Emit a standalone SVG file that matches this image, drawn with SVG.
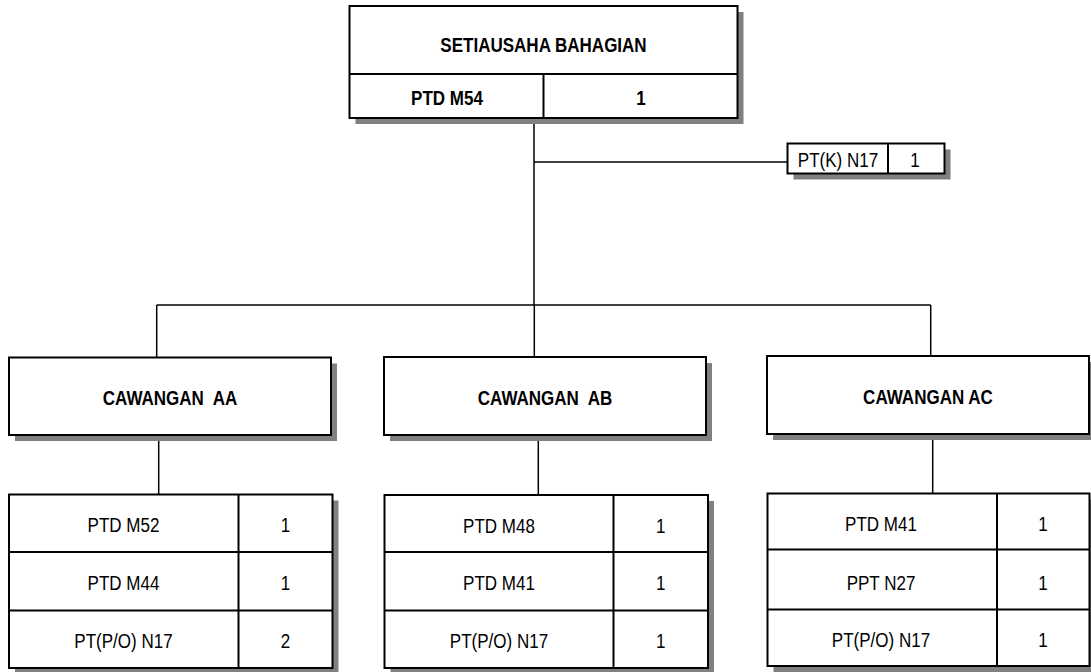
<svg xmlns="http://www.w3.org/2000/svg" width="1091" height="672" viewBox="0 0 1091 672">
<style>
.bx{fill:#fff;stroke:#000;stroke-width:2}
.sh{fill:#808080;stroke:none}
.dv{stroke:#000;stroke-width:2;fill:none}
.cn{stroke:#000;stroke-width:1.5;fill:none}
.b{font-family:"Liberation Sans",Arial,sans-serif;font-size:20.5px;font-weight:bold;text-anchor:middle;fill:#000;white-space:pre}
.r{font-family:"Liberation Sans",Arial,sans-serif;font-size:20.5px;text-anchor:middle;fill:#000}
</style>
<rect width="1091" height="672" fill="#fff"/>
<g id="connectors">
<path class="cn" d="M534 118 V305"/>
<path class="cn" d="M534 162 H787.5"/>
<path class="cn" d="M156.7 305 H930.7"/>
<path class="cn" d="M156.7 305 V357.5"/>
<path class="cn" d="M534.3 305 V357"/>
<path class="cn" d="M930.7 305 V356"/>
<path class="cn" d="M158.7 435 V494.5"/>
<path class="cn" d="M538.3 435 V495"/>
<path class="cn" d="M932.7 434 V493.5"/>
</g>
<g id="setiausaha">
<rect class="sh" x="355.5" y="12" width="388" height="112"/>
<rect class="bx" x="349.5" y="6" width="388" height="112"/>
<path class="dv" d="M349.5 74 H737.5 M543.5 74 V118"/>
<text class="b" transform="translate(543.5 51.5) scale(0.83 1)">SETIAUSAHA BAHAGIAN</text>
<text class="b" transform="translate(447 105) scale(0.83 1)">PTD M54</text>
<text class="b" transform="translate(641 105) scale(0.83 1)">1</text>
</g>
<g id="ptk">
<rect class="sh" x="793.5" y="149.5" width="157" height="30"/>
<rect class="bx" x="787.5" y="143.5" width="157" height="30"/>
<path class="dv" d="M888 143.5 V173.5"/>
<text class="r" transform="translate(838 166.5) scale(0.83 1)">PT(K) N17</text>
<text class="r" transform="translate(915 166.5) scale(0.83 1)">1</text>
</g>
<g id="cawangan-aa">
<rect class="sh" x="15" y="363.5" width="322" height="77.5"/>
<rect class="bx" x="9" y="357.5" width="322" height="77.5"/>
<text class="b" xml:space="preserve" transform="translate(170 405) scale(0.83 1)">CAWANGAN  AA</text>
</g>
<g id="cawangan-ab">
<rect class="sh" x="390" y="363" width="322" height="78"/>
<rect class="bx" x="384" y="357" width="322" height="78"/>
<text class="b" xml:space="preserve" transform="translate(545 404.5) scale(0.83 1)">CAWANGAN  AB</text>
</g>
<g id="cawangan-ac">
<rect class="sh" x="773" y="362" width="322" height="78"/>
<rect class="bx" x="767" y="356" width="322" height="78"/>
<text class="b" transform="translate(928 403.5) scale(0.83 1)">CAWANGAN AC</text>
</g>
<g id="table-aa">
<rect class="sh" x="15" y="500.5" width="323.5" height="173.5"/>
<rect class="bx" x="9" y="494.5" width="323.5" height="173.5"/>
<path class="dv" d="M238.5 494.5 V668 M9 552 H332.5 M9 610.5 H332.5"/>
<text class="r" transform="translate(123.5 532) scale(0.83 1)">PTD M52</text>
<text class="r" transform="translate(285.5 532) scale(0.83 1)">1</text>
<text class="r" transform="translate(123.5 590) scale(0.83 1)">PTD M44</text>
<text class="r" transform="translate(285.5 590) scale(0.83 1)">1</text>
<text class="r" transform="translate(123.5 648) scale(0.83 1)">PT(P/O) N17</text>
<text class="r" transform="translate(285.5 648) scale(0.83 1)">2</text>
</g>
<g id="table-ab">
<rect class="sh" x="390.5" y="501" width="323.5" height="173"/>
<rect class="bx" x="384.5" y="495" width="323.5" height="173"/>
<path class="dv" d="M613.5 495 V668 M384.5 552 H708 M384.5 610.5 H708"/>
<text class="r" transform="translate(499 532.5) scale(0.83 1)">PTD M48</text>
<text class="r" transform="translate(660.7 532.5) scale(0.83 1)">1</text>
<text class="r" transform="translate(499 589.5) scale(0.83 1)">PTD M41</text>
<text class="r" transform="translate(660.7 589.5) scale(0.83 1)">1</text>
<text class="r" transform="translate(499 647.5) scale(0.83 1)">PT(P/O) N17</text>
<text class="r" transform="translate(660.7 647.5) scale(0.83 1)">1</text>
</g>
<g id="table-ac">
<rect class="sh" x="773.5" y="499.5" width="322" height="172.5"/>
<rect class="bx" x="767.5" y="493.5" width="322" height="172.5"/>
<path class="dv" d="M997 493.5 V666 M767.5 549.5 H1089.5 M767.5 609.5 H1089.5"/>
<text class="r" transform="translate(881 531) scale(0.83 1)">PTD M41</text>
<text class="r" transform="translate(1043 531) scale(0.83 1)">1</text>
<text class="r" transform="translate(881 590) scale(0.83 1)">PPT N27</text>
<text class="r" transform="translate(1043 590) scale(0.83 1)">1</text>
<text class="r" transform="translate(881 647) scale(0.83 1)">PT(P/O) N17</text>
<text class="r" transform="translate(1043 647) scale(0.83 1)">1</text>
</g>
</svg>
